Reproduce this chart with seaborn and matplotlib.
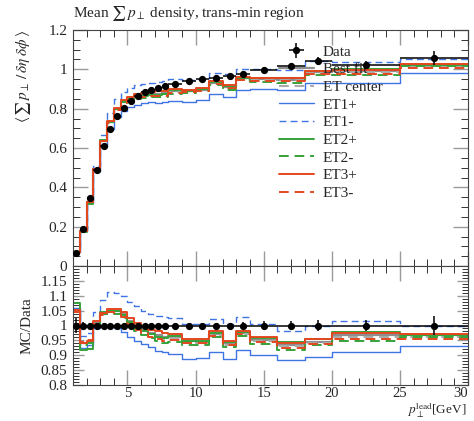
import numpy as np
import pandas as pd
import matplotlib
matplotlib.use("Agg")
import matplotlib.pyplot as plt
import seaborn as sns
from matplotlib.ticker import MultipleLocator, FuncFormatter, FixedLocator

# ---- binning and measured values ----
bin_edges = [1, 1.5, 2, 2.5, 3, 3.5, 4, 4.5, 5, 5.5, 6, 6.5, 7, 7.5, 8,
             9, 10, 11, 12, 13, 14, 16, 18, 20, 25, 30]

data_vals = [0.068, 0.190, 0.344, 0.487, 0.612, 0.698, 0.763, 0.805, 0.840,
             0.866, 0.883, 0.896, 0.906, 0.913, 0.925, 0.939, 0.949, 0.958,
             0.968, 0.977, 0.997, 1.015, 1.042, 1.023, 1.057]
data_errs = [0.0017, 0.002, 0.002, 0.002, 0.003, 0.003, 0.003, 0.003, 0.003,
             0.003, 0.003, 0.003, 0.003, 0.004, 0.004, 0.004, 0.005, 0.006,
             0.007, 0.010, 0.014, 0.015, 0.020, 0.020, 0.035]

# ---- MC / data ratios per bin ----
ratio_best = [1.050, 0.940, 0.945, 1.010, 1.040, 1.050, 1.048, 1.038, 1.015,
              0.998, 0.988, 0.975, 0.968, 0.962, 0.962, 0.947, 0.945, 0.972,
              0.940, 0.976, 0.952, 0.934, 0.945, 0.967, 0.967]
ratio_center = [1.047, 0.942, 0.946, 1.006, 1.037, 1.046, 1.044, 1.033, 1.010,
                0.992, 0.982, 0.970, 0.962, 0.956, 0.957, 0.943, 0.942, 0.968,
                0.936, 0.972, 0.948, 0.930, 0.941, 0.962, 0.962]
ratio_et1p = [1.060, 0.925, 0.935, 0.990, 0.998, 0.997, 0.990, 0.978, 0.962,
              0.948, 0.938, 0.928, 0.915, 0.912, 0.905, 0.889, 0.892, 0.911,
              0.887, 0.916, 0.901, 0.883, 0.894, 0.911, 0.930]
ratio_et1m = [1.055, 0.965, 0.975, 1.045, 1.085, 1.112, 1.110, 1.098, 1.080,
              1.065, 1.050, 1.038, 1.032, 1.030, 1.026, 1.006, 1.004, 1.022,
              1.006, 1.027, 1.004, 0.983, 1.000, 1.015, 0.998]
ratio_et2p = [1.075, 0.918, 0.922, 1.000, 1.045, 1.050, 1.048, 1.035, 1.012,
              0.990, 0.980, 0.970, 0.962, 0.958, 0.965, 0.947, 0.947, 0.975,
              0.945, 0.977, 0.958, 0.944, 0.953, 0.978, 0.969]
ratio_et2m = [1.050, 0.935, 0.940, 1.000, 1.040, 1.045, 1.040, 1.025, 1.000,
              0.980, 0.968, 0.958, 0.948, 0.942, 0.945, 0.936, 0.936, 0.963,
              0.927, 0.966, 0.939, 0.917, 0.934, 0.949, 0.960]
ratio_et3p = [1.052, 0.942, 0.947, 1.015, 1.042, 1.057, 1.055, 1.046, 1.024,
              1.008, 0.997, 0.986, 0.980, 0.975, 0.972, 0.953, 0.953, 0.980,
              0.949, 0.983, 0.960, 0.942, 0.953, 0.975, 0.971]
ratio_et3m = [1.045, 0.945, 0.950, 1.005, 1.035, 1.045, 1.042, 1.030, 1.005,
              0.985, 0.975, 0.963, 0.955, 0.948, 0.952, 0.940, 0.940, 0.966,
              0.935, 0.970, 0.944, 0.925, 0.938, 0.956, 0.953]

series_labels = ["Best fit", "ET center", "ET1+", "ET1-", "ET2+", "ET2-", "ET3+", "ET3-"]
series_ratios = [ratio_best, ratio_center, ratio_et1p, ratio_et1m,
                 ratio_et2p, ratio_et2m, ratio_et3p, ratio_et3m]

BLUE, GREEN, RED = "#3f74e4", "#36a23a", "#e4471f"
series_styles = {
    "Best fit":  dict(color="#8e8e8e", ls="-", lw=1.6),
    "ET center": dict(color="#a9a9a9", ls=(0, (5, 3)), lw=1.4),
    "ET1+":      dict(color=BLUE, ls="-", lw=1.0),
    "ET1-":      dict(color=BLUE, ls=(0, (5, 3)), lw=1.0),
    "ET2+":      dict(color=GREEN, ls="-", lw=1.4),
    "ET2-":      dict(color=GREEN, ls=(0, (5, 3)), lw=1.4),
    "ET3+":      dict(color=RED, ls="-", lw=1.4),
    "ET3-":      dict(color=RED, ls=(0, (5, 3)), lw=1.4),
}

# ---- style ----
sns.set_theme(style="ticks")
plt.rcParams["font.family"] = ["Liberation Serif", "DejaVu Serif"]
plt.rcParams["mathtext.fontset"] = "stix"
plt.rcParams["font.size"] = 10.5

edges = np.array(bin_edges)
centers = 0.5 * (edges[:-1] + edges[1:])
halfw = 0.5 * (edges[1:] - edges[:-1])
dvals = np.array(data_vals)
derrs = np.array(data_errs)

W, H = 474, 421
fig = plt.figure(figsize=(W / 100, H / 100), dpi=100)
L, R = 73, 468
TOP, MID, BOT = 30, 266, 385
ax = fig.add_axes([L / W, 1 - MID / H, (R - L) / W, (MID - TOP) / H])
axr = fig.add_axes([L / W, 1 - BOT / H, (R - L) / W, (BOT - MID) / H], sharex=ax)


def stairs_frame(vals):
    return pd.DataFrame({"x": edges, "y": np.append(vals, vals[-1])})


handles = {}
for lab, rat in zip(series_labels, series_ratios):
    st = series_styles[lab]
    rat = np.array(rat)
    for target, vals in ((ax, dvals * rat), (axr, rat)):
        df = stairs_frame(vals)
        sns.lineplot(data=df, x="x", y="y", ax=target, drawstyle="steps-post",
                     color=st["color"], linestyle=st["ls"], linewidth=st["lw"],
                     estimator=None, errorbar=None, legend=False)
    handles[lab] = target.lines[-1]

# data points
eb = ax.errorbar(centers, dvals, xerr=halfw, yerr=derrs, fmt="o", color="black",
                 ms=4.2, lw=1.1, capsize=0, zorder=10)
axr.errorbar(centers, np.ones_like(dvals), xerr=halfw, yerr=derrs / dvals,
             fmt="o", color="black", ms=4.2, lw=1.1, capsize=0, zorder=10)

# ---- axes cosmetics ----
fmt = FuncFormatter(lambda v, p: "%g" % round(v, 4))
for a in (ax, axr):
    a.set_xlim(1, 30)
    a.tick_params(which="both", direction="in", top=True, right=True, pad=4)
    a.tick_params(which="major", length=11, width=1.0, color="#9a9a9a")
    a.tick_params(which="minor", length=5, width=0.7, color="#333333")
    a.xaxis.set_major_locator(MultipleLocator(5))
    a.xaxis.set_minor_locator(MultipleLocator(1))
    for s in a.spines.values():
        s.set_color("#444444")
        s.set_linewidth(0.8)
    a.set_xlabel("")
    a.set_ylabel("")

ax.set_ylim(0, 1.2)
ax.yaxis.set_major_locator(MultipleLocator(0.2))
ax.yaxis.set_minor_locator(MultipleLocator(0.05))
ax.yaxis.set_major_formatter(fmt)
ax.tick_params(axis="x", labelbottom=False)

axr.set_ylim(0.8, 1.2)
axr.yaxis.set_major_locator(FixedLocator([0.8, 0.85, 0.9, 0.95, 1.0, 1.05, 1.1, 1.15]))
axr.yaxis.set_minor_locator(MultipleLocator(0.01))
axr.yaxis.set_major_formatter(fmt)
axr.xaxis.set_major_formatter(fmt)
axr.tick_params(axis="y", which="major", length=8)
axr.tick_params(axis="y", which="minor", length=4)
axr.tick_params(axis="x", pad=1.5, labelsize=10.5)

ax.set_ylabel(r"$\langle\,\sum\, p_\perp\,/\,\delta\eta\;\delta\phi\,\rangle$",
              loc="top", fontsize=11)
axr.set_ylabel("MC/Data", fontsize=11)
ax.yaxis.set_label_coords(-0.100, 1.0)
axr.yaxis.set_label_coords(-0.100, 0.5)

fig.canvas.draw()
# keep the last x tick label inside the canvas
for t in axr.get_xticklabels():
    if t.get_text() == "30":
        t.set_horizontalalignment("right")
fig.canvas.draw()
renderer = fig.canvas.get_renderer()
tick_bottom = min(t.get_window_extent(renderer).y0
                  for t in axr.get_xticklabels() if t.get_text())

# x-axis title tucked under the tick labels at the right end
xl_text = r"$p_\perp^{\rm lead}$[GeV]"
xl = None
for size in np.arange(10.5, 7.9, -0.25):
    xl = fig.text((R - 2) / W, 0.5 / H, xl_text, ha="right", va="bottom",
                  fontsize=size)
    if xl.get_window_extent(renderer).y1 < tick_bottom - 0.5:
        break
    xl.remove()
    xl = None
if xl is None:
    fig.text((R - 2) / W, 0.5 / H, xl_text, ha="right", va="bottom", fontsize=9)

fig.text(L / W, 1 - 14 / H, r"Mean $\sum\, p_\perp$ density, trans-min region",
         ha="left", va="center", fontsize=11)

order = ["Best fit", "ET center", "ET1+", "ET1-", "ET2+", "ET2-", "ET3+", "ET3-"]
leg_handles = [eb] + [handles[k] for k in order]
leg_labels = ["Data"] + order
ax.legend(leg_handles, leg_labels, loc="upper left", bbox_to_anchor=(0.505, 0.962),
          frameon=False, handlelength=2.3, handletextpad=0.6, labelspacing=0.26,
          fontsize=11, borderaxespad=0)

fig.savefig("out.png", dpi=100)
